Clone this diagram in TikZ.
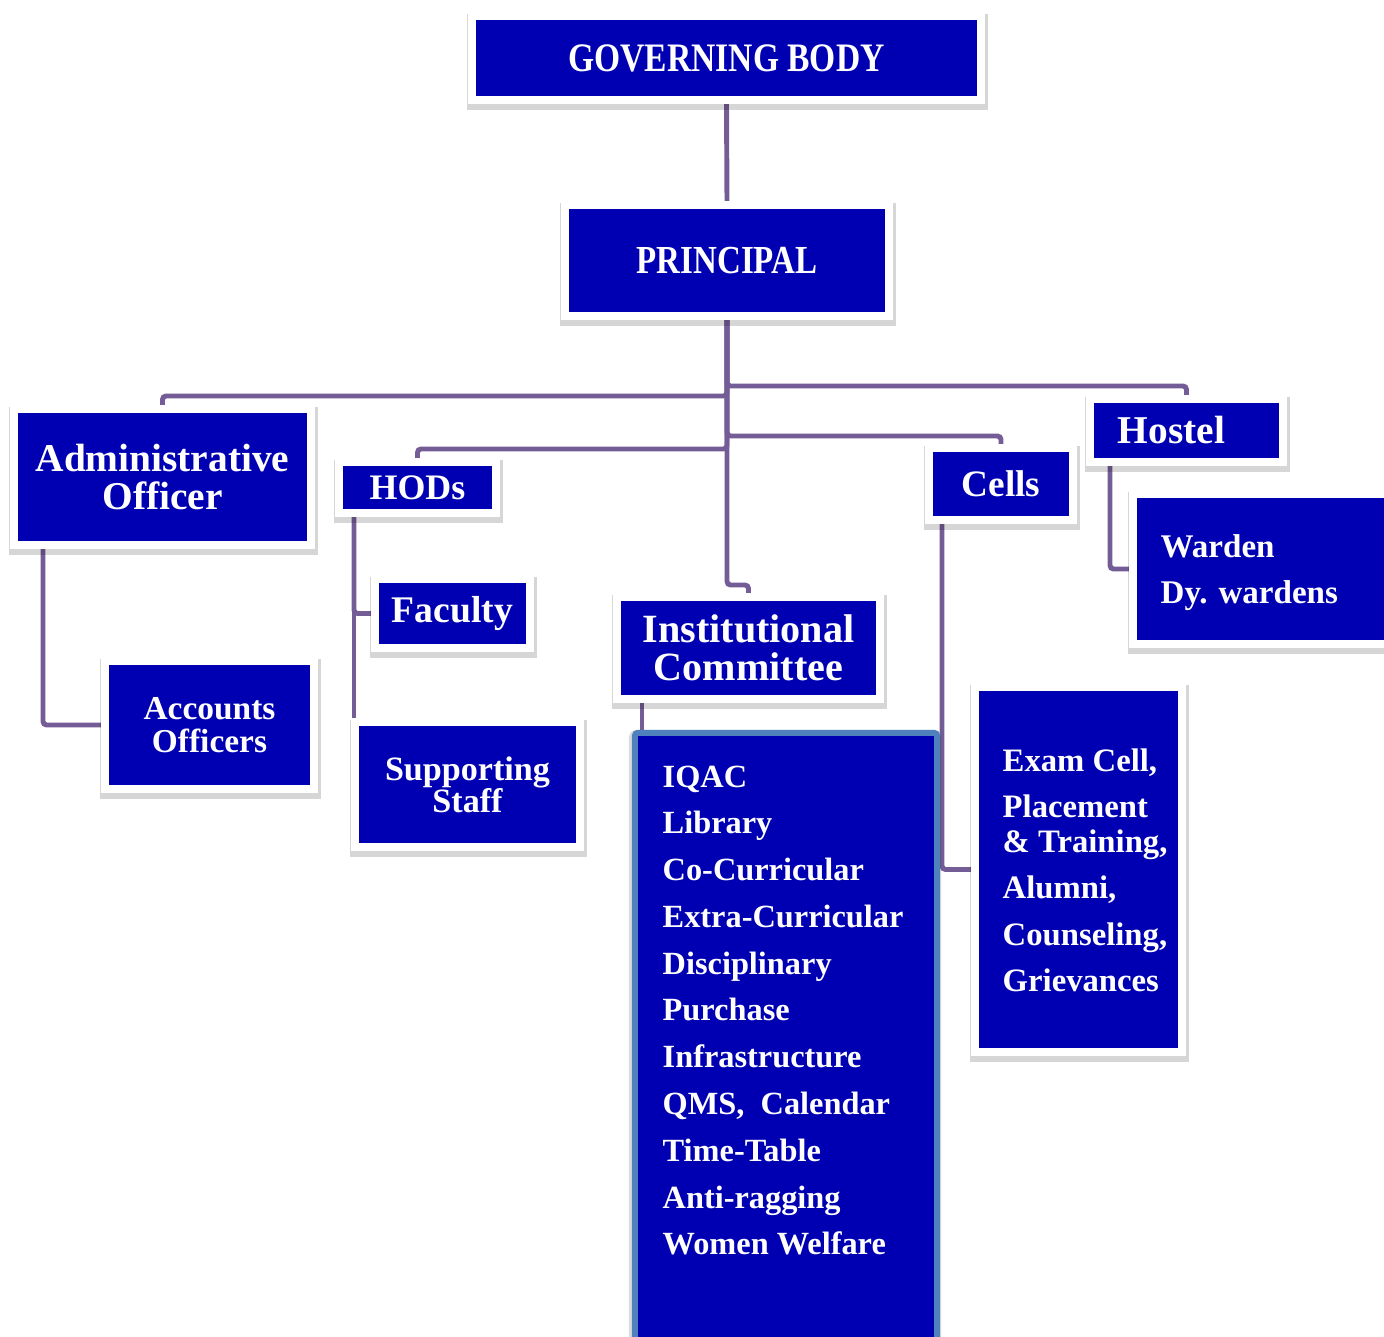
\documentclass[tikz,border=0pt]{standalone}
\usepackage{fontspec}
\setmainfont{Liberation Serif}
\newfontfamily\capsfont{Liberation Serif}[FakeStretch=0.83]
\usepackage{xcolor}
\usepackage{tikz}
\usetikzlibrary{backgrounds}

\definecolor{boxblue}{RGB}{0,0,178}
\definecolor{linkpurple}{RGB}{116,92,150}
\definecolor{listborder}{RGB}{79,129,189}

\tikzset{
  ombre/.style={preaction={draw=black, draw opacity=0.16, line width=0.115cm,
    transform canvas={xshift=0.35pt, yshift=-1.1pt}}},
  boite/.style={ombre, fill=boxblue, draw=white, line width=0.08cm, inner sep=0pt,
    text=white, align=center},
  liste/.style={fill=boxblue, draw=listborder, line width=0.06cm, rounded corners=0.03cm,
    inner sep=0pt,
    preaction={draw=black, draw opacity=0.14, line width=0.1cm,
      transform canvas={xshift=-0.3pt, yshift=-0.6pt}}},
  texte/.style={text=white, align=left, inner sep=0pt},
  lien/.style={draw=linkpurple, line width=1.4pt, rounded corners=1pt}
}

\begin{document}
\begin{tikzpicture}[x=0.01cm, y=-0.01cm]
    \useasboundingbox (0,0) rectangle (1384,1337);

    % Direction
    \node[boite, minimum width=5.09cm, minimum height=0.84cm,
          font=\capsfont\bfseries\fontsize{11.5}{12}\selectfont] (GB) at (726.5,58) {GOVERNING BODY};
    \node[boite, minimum width=3.24cm, minimum height=1.11cm,
          font=\capsfont\bfseries\fontsize{11.3}{12}\selectfont] (P) at (727,260.5) {PRINCIPAL};

    % Branche administrative
    \node[boite, minimum width=2.97cm, minimum height=1.36cm,
          font=\bfseries\fontsize{11.2}{10.8}\selectfont] (AO) at (162.5,477) {Administrative\\Officer};
    \node[boite, minimum width=2.09cm, minimum height=1.28cm,
          font=\bfseries\fontsize{9.5}{9.4}\selectfont] (AC) at (209.5,725) {Accounts\\Officers};

    % Départements
    \node[boite, minimum width=1.57cm, minimum height=0.51cm,
          font=\bfseries\fontsize{10.2}{12}\selectfont] (HD) at (417.5,487.5) {HODs};
    \node[boite, minimum width=1.55cm, minimum height=0.69cm,
          font=\bfseries\fontsize{10.7}{12}\selectfont] (FA) at (452.5,613.5) {Faculty};
    \node[boite, minimum width=2.25cm, minimum height=1.25cm,
          font=\bfseries\fontsize{9.7}{9.1}\selectfont] (SS) at (467.5,784.5) {Supporting\\Staff};

    % Comités
    \node[boite, minimum width=2.63cm, minimum height=1.02cm,
          font=\bfseries\fontsize{11.4}{10.8}\selectfont] (IC) at (748.5,648) {Institutional\\Committee};
    \node[liste, minimum width=3.02cm, minimum height=6.07cm] (L) at (786,1036.5) {};
    \node[texte, anchor=north west, font=\bfseries\fontsize{9.2}{13.3}\selectfont] (Lt) at (662,765)
        {IQAC\\Library\\Co-Curricular\\Extra-Curricular\\Disciplinary\\Purchase\\Infrastructure\\QMS,\ \ Calendar\\Time-Table\\Anti-ragging\\Women Welfare};

    % Cellules
    \node[boite, minimum width=1.44cm, minimum height=0.72cm,
          font=\bfseries\fontsize{10.6}{12}\selectfont] (CE) at (1001,484) {Cells};
    \node[boite, minimum width=2.07cm, minimum height=3.65cm] (EC) at (1078.5,869.5) {};
    \node[texte, anchor=north west, font=\bfseries\fontsize{9.3}{13.2}\selectfont] (ECt) at (1002,748)
        {Exam Cell,\\Placement\\[-3.4pt]\& Training,\\Alumni,\\Counseling,\\Grievances};

    % Internat
    \node[boite, minimum width=1.93cm, minimum height=0.63cm, text width=1.37cm, align=left,
          font=\bfseries\fontsize{11.2}{12}\selectfont] (HO) at (1186.5,430.5) {Hostel};
    \node[boite, minimum width=2.63cm, minimum height=1.50cm] (W) at (1264.5,569) {};
    \node[texte, anchor=north west, font=\bfseries\fontsize{9.4}{13}\selectfont] (Wt) at (1160,534)
        {Warden\\Dy. wardens};

    % Liaisons
    \begin{scope}[on background layer]
        \draw[lien] (GB.south) -- (P.north);
        \draw[lien] (P.south) -- (P.south |- 0,396) -| (AO.north);
        \draw[lien] (P.south) -- (P.south |- 0,386) -| (HO.north);
        \draw[lien] (P.south) -- (P.south |- 0,436) -| (CE.north);
        \draw[lien] (P.south) -- (P.south |- 0,449) -| (HD.north);
        \draw[lien] (P.south) -- (P.south |- 0,585) -| (IC.north);
        \draw[lien] (AO.south -| 43,0) |- (AC.west);
        \draw[lien] (HD.south -| 354,0) -- (SS.north -| 354,0);
        \draw[lien] (HD.south -| 354,0) |- (FA.west);
        \draw[lien] (IC.south -| 642,0) -- (L.north -| 642,0);
        \draw[lien] (CE.south -| 942,0) |- (EC.west);
        \draw[lien] (HO.south -| 1110,0) |- (W.west);
    \end{scope}
\end{tikzpicture}
\end{document}
